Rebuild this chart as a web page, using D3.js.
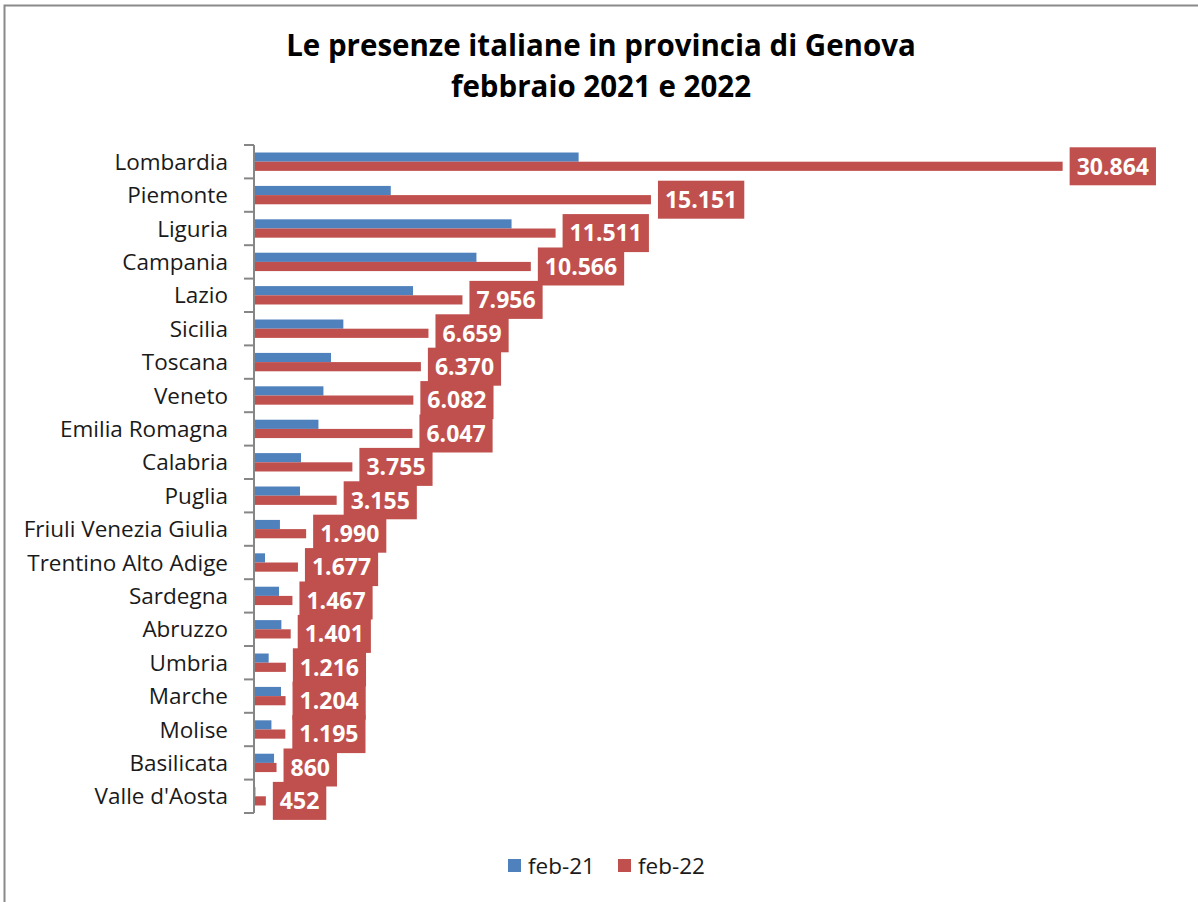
<!DOCTYPE html>
<html>
<head>
<meta charset="utf-8">
<script src="https://cdn.jsdelivr.net/npm/d3@7"></script>
<style>
  body { margin: 0; background: #fff; }
  svg { display: block; }
</style>
</head>
<body>
<div id="chart"></div>
<script>
// data
const regions = ['Lombardia', 'Piemonte', 'Liguria', 'Campania', 'Lazio', 'Sicilia', 'Toscana',
  'Veneto', 'Emilia Romagna', 'Calabria', 'Puglia', 'Friuli Venezia Giulia', 'Trentino Alto Adige',
  'Sardegna', 'Abruzzo', 'Umbria', 'Marche', 'Molise', 'Basilicata', "Valle d'Aosta"]
const feb21 = [12390, 5220, 9830, 8490, 6070, 3410, 2940, 2650, 2460, 1795, 1755, 990, 420, 955,
  1045, 560, 1030, 665, 765, 55]
const feb22 = [30864, 15151, 11511, 10566, 7956, 6659, 6370, 6082, 6047, 3755, 3155, 1990, 1677,
  1467, 1401, 1216, 1204, 1195, 860, 452]
const seriesNames = ['feb-21', 'feb-22']
const titleLines = ['Le presenze italiane in provincia di Genova', 'febbraio 2021 e 2022']

const width = 1198
const height = 902
const colors = ['#4F81BD', '#C0504D']

const itFormat = d3.formatLocale({ decimal: ',', thousands: '.', grouping: [3], currency: ['€', ''] })
  .format(',d')

const data = regions.map(function(r, i) {
  return { region: r, values: [feb21[i], feb22[i]] }
})

const svg = d3
  .select('#chart')
  .append('svg')
  .attr('width', width)
  .attr('height', height)

// outer frame (right and bottom edges fall outside the picture)
svg
  .append('rect')
  .attr('x', 4.5)
  .attr('y', 5.5)
  .attr('width', 1400)
  .attr('height', 1200)
  .attr('fill', 'none')
  .attr('stroke', '#8a8a8a')
  .attr('stroke-width', 2)

// title
svg
  .append('g')
  .selectAll('text')
  .data(titleLines)
  .enter()
  .append('text')
  .attr('x', 601)
  .attr('y', function(d, i) { return 56 + i * 41 })
  .attr('text-anchor', 'middle')
  .attr('font-family', 'Open Sans, sans-serif')
  .attr('font-weight', 'bold')
  .attr('font-size', 29.5)
  .attr('fill', '#000')
  .text(function(d) { return d })

const xScale = d3.scaleLinear().domain([0, 35000]).range([254, 1171])

const yScale = d3
  .scaleBand()
  .domain(regions)
  .range([145, 813])
  .paddingInner(0.45)
  .paddingOuter(0.225)

const yOuter = d3.scaleBand().domain(regions).range([145, 813])

const subScale = d3
  .scaleBand()
  .domain([0, 1])
  .range([0, yScale.bandwidth()])

// bars
const groups = svg
  .selectAll('.region')
  .data(data)
  .enter()
  .append('g')
  .attr('class', 'region')
  .attr('transform', function(d) { return 'translate(0,' + yScale(d.region) + ')' })

groups
  .selectAll('rect')
  .data(function(d) { return d.values })
  .enter()
  .append('rect')
  .attr('x', xScale(0))
  .attr('y', function(d, i) { return subScale(i) })
  .attr('width', function(d) { return xScale(d) - xScale(0) })
  .attr('height', subScale.bandwidth())
  .attr('fill', function(d, i) { return colors[i] })

// axis line and ticks at band edges
const axis = svg.append('g').attr('stroke', '#868686').attr('stroke-width', 2)
axis
  .append('line')
  .attr('x1', 254)
  .attr('x2', 254)
  .attr('y1', yOuter.range()[0])
  .attr('y2', yOuter.range()[1])
const tickYs = regions.map(function(r) { return yOuter(r) }).concat([yOuter.range()[1]])
axis
  .selectAll('.tick')
  .data(tickYs)
  .enter()
  .append('line')
  .attr('x1', 244)
  .attr('x2', 254)
  .attr('y1', function(d) { return d })
  .attr('y2', function(d) { return d })

// category labels
svg
  .append('g')
  .selectAll('text')
  .data(regions)
  .enter()
  .append('text')
  .attr('x', 228)
  .attr('y', function(d) { return yScale(d) + yScale.bandwidth() / 2 })
  .attr('dy', '0.36em')
  .attr('text-anchor', 'end')
  .attr('font-family', 'Open Sans, sans-serif')
  .attr('font-size', 22.5)
  .attr('fill', '#1a1a1a')
  .text(function(d) { return d })

// value labels for feb-22, boxed
const labels = svg
  .selectAll('.value-label')
  .data(data)
  .enter()
  .append('g')
  .attr('class', 'value-label')
  .attr('transform', function(d) {
    const cy = yScale(d.region) + subScale(1) + subScale.bandwidth() / 2
    return 'translate(' + (xScale(d.values[1]) + 7) + ',' + cy + ')'
  })

labels.append('rect')
labels
  .append('text')
  .attr('x', 7)
  .attr('dy', '0.36em')
  .attr('font-family', 'Open Sans, sans-serif')
  .attr('font-weight', 'bold')
  .attr('font-size', 23)
  .attr('fill', '#fff')
  .text(function(d) { return itFormat(d.values[1]) })

labels.each(function() {
  const g = d3.select(this)
  const w = g.select('text').node().getComputedTextLength()
  g.select('rect')
    .attr('x', 0)
    .attr('y', -19)
    .attr('width', w + 14)
    .attr('height', 38)
    .attr('fill', colors[1])
})

// legend
const legend = svg
  .selectAll('.legend')
  .data(seriesNames)
  .enter()
  .append('g')
  .attr('class', 'legend')
  .attr('transform', function(d, i) { return 'translate(' + (508 + i * 110) + ',859)' })

legend
  .append('rect')
  .attr('width', 13)
  .attr('height', 13)
  .attr('fill', function(d, i) { return colors[i] })

legend
  .append('text')
  .attr('x', 20)
  .attr('y', 7)
  .attr('dy', '0.36em')
  .attr('font-family', 'Open Sans, sans-serif')
  .attr('font-size', 22.5)
  .attr('fill', '#1a1a1a')
  .text(function(d) { return d })
</script>
</body>
</html>
